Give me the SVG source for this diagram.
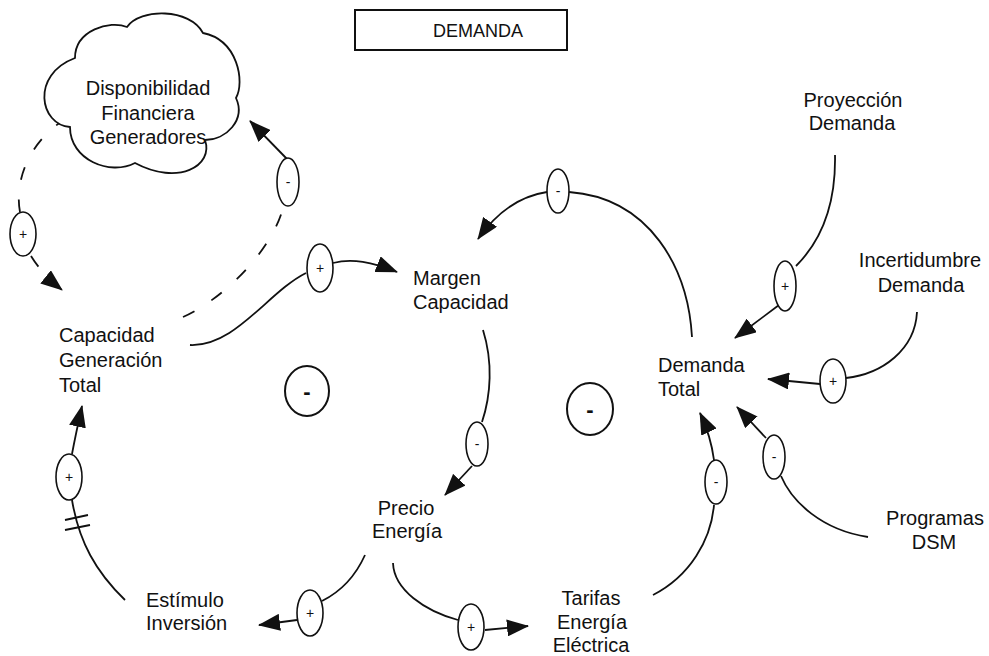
<svg xmlns="http://www.w3.org/2000/svg" width="989" height="656" viewBox="0 0 989 656">
  <style>
    .lbl { font-family: "Liberation Sans", Arial, sans-serif; font-size: 20px; fill: #111; }
    .mid { text-anchor: middle; }
    .sign { font-family: "Liberation Sans", Arial, sans-serif; font-size: 14px; fill: #111; text-anchor: middle; }
    .loop { font-family: "Liberation Sans", Arial, sans-serif; font-size: 22px; font-weight: bold; fill: #111; text-anchor: middle; }
    .link { fill: none; stroke: #111; stroke-width: 1.8; }
    .dash { stroke-dasharray: 13 20; }
    .arr { fill: none; stroke: #111; stroke-width: 1.8; marker-end: url(#ah); }
    .pol { fill: #fff; stroke: #111; stroke-width: 1.6; }
    .ring { fill: #fff; stroke: #111; stroke-width: 2; }
  </style>
  <defs>
    <marker id="ah" viewBox="0 0 22 17" refX="21" refY="8.5" markerWidth="22" markerHeight="17" orient="auto" markerUnits="userSpaceOnUse">
      <path d="M0,0 L22,8.5 L0,17 Z" fill="#111"/>
    </marker>
  </defs>
  <rect width="989" height="656" fill="#fff"/>

  <!-- title box -->
  <g id="title">
    <rect x="355" y="10" width="212" height="40" fill="#fff" stroke="#111" stroke-width="2"/>
    <text class="lbl mid" x="478" y="37" style="font-size:18px">DEMANDA</text>
  </g>

  <!-- connectors -->
  <g id="connectors">
    <!-- cloud -> capacidad (dashed) -->
    <path class="link dash" d="M67,118 C30,140 14,180 20,212"/>
    <path class="link dash" d="M31,256 Q42,274 62,290" marker-end="url(#ah)"/>
    <!-- capacidad -> cloud (dashed) -->
    <path class="link dash" d="M183,317 C225,298 272,250 283,208"/>
    <path class="arr" d="M287,159 L250,121"/>
    <!-- capacidad -> margen -->
    <path class="link" d="M190,345 C235,347 268,292 306,273"/>
    <path class="arr" d="M333,263 C352,258 372,262 397,272"/>
    <!-- margen -> precio -->
    <path class="link" d="M483,330 C493,362 491,395 482,422"/>
    <path class="arr" d="M472,466 L445,495"/>
    <!-- precio -> estimulo -->
    <path class="link" d="M365,555 C356,575 342,591 322,601"/>
    <path class="arr" d="M297,620 L259,625"/>
    <!-- precio -> tarifas -->
    <path class="link" d="M393,563 C394,590 425,611 458,620"/>
    <path class="arr" d="M485,630 L528,626"/>
    <!-- estimulo -> capacidad (with delay) -->
    <path class="link" d="M125,600 C96,572 79,542 72,500"/>
    <path class="link" d="M65,520 L88,515 M65,530 L90,525"/>
    <path class="arr" d="M72,454 C75,438 78,424 82,406"/>
    <!-- tarifas -> demanda total -->
    <path class="link" d="M653,595 C690,576 711,540 714,505"/>
    <path class="arr" d="M714,460 C712,445 708,430 700,413"/>
    <!-- DSM -> demanda total -->
    <path class="link" d="M868,537 C822,530 792,502 781,476"/>
    <path class="arr" d="M766,438 L737,407"/>
    <!-- incertidumbre -> demanda total -->
    <path class="link" d="M917,312 C915,350 882,374 846,378"/>
    <path class="arr" d="M820,384 L768,379"/>
    <!-- proyeccion -> demanda total -->
    <path class="link" d="M835,155 C836,205 822,240 796,266"/>
    <path class="arr" d="M779,305 L735,338"/>
    <!-- demanda total -> margen -->
    <path class="link" d="M692,337 C688,268 650,198 569,192"/>
    <path class="arr" d="M547,192 C520,196 497,212 478,239"/>
  </g>

  <!-- polarity marks -->
  <g id="polarities">
    <ellipse class="pol" cx="23" cy="234" rx="13" ry="22"/><text class="sign" x="23" y="239">+</text>
    <ellipse class="pol" cx="288" cy="182" rx="11" ry="24"/><text class="sign" x="288" y="187">-</text>
    <ellipse class="pol" cx="320" cy="268" rx="13" ry="24"/><text class="sign" x="320" y="273">+</text>
    <ellipse class="pol" cx="558" cy="191" rx="11" ry="22"/><text class="sign" x="558" y="196">-</text>
    <ellipse class="pol" cx="477" cy="444" rx="11" ry="22"/><text class="sign" x="477" y="449">-</text>
    <ellipse class="pol" cx="310" cy="613" rx="13" ry="23"/><text class="sign" x="310" y="618">+</text>
    <ellipse class="pol" cx="471" cy="627" rx="13" ry="23"/><text class="sign" x="471" y="632">+</text>
    <ellipse class="pol" cx="69" cy="477" rx="13" ry="23"/><text class="sign" x="69" y="482">+</text>
    <ellipse class="pol" cx="716" cy="482" rx="11" ry="22"/><text class="sign" x="716" y="487">-</text>
    <ellipse class="pol" cx="774" cy="457" rx="11" ry="22"/><text class="sign" x="774" y="462">-</text>
    <ellipse class="pol" cx="833" cy="381" rx="13" ry="22"/><text class="sign" x="833" y="386">+</text>
    <ellipse class="pol" cx="785" cy="286" rx="11" ry="25"/><text class="sign" x="785" y="291">+</text>
  </g>

  <!-- loop markers -->
  <g id="loop-left">
    <ellipse class="ring" cx="307" cy="391" rx="22" ry="25"/>
    <text class="loop" x="307" y="399">-</text>
  </g>
  <g id="loop-right">
    <ellipse class="ring" cx="590" cy="409" rx="23" ry="26"/>
    <text class="loop" x="590" y="417">-</text>
  </g>

  <!-- nodes -->
  <g id="disponibilidad">
    <path d="M70,127 C40,125 30,75 75,58 C75,30 110,20 127,27 C140,8 190,8 203,33 C238,40 245,82 236,98 C246,120 226,140 205,140 C214,166 178,186 135,163 C110,176 70,160 70,127 Z" fill="#fff" stroke="#111" stroke-width="1.8"/>
    <text class="lbl mid" x="148" y="95">Disponibilidad</text>
    <text class="lbl mid" x="148" y="120">Financiera</text>
    <text class="lbl mid" x="148" y="144">Generadores</text>
  </g>
  <g id="capacidad">
    <text class="lbl" x="59" y="342">Capacidad</text>
    <text class="lbl" x="59" y="367">Generación</text>
    <text class="lbl" x="59" y="392">Total</text>
  </g>
  <g id="margen">
    <text class="lbl" x="413" y="285">Margen</text>
    <text class="lbl" x="413" y="309">Capacidad</text>
  </g>
  <g id="precio">
    <text class="lbl mid" x="406" y="515">Precio</text>
    <text class="lbl mid" x="407" y="538">Energía</text>
  </g>
  <g id="estimulo">
    <text class="lbl" x="146" y="607">Estímulo</text>
    <text class="lbl" x="146" y="630">Inversión</text>
  </g>
  <g id="tarifas">
    <text class="lbl mid" x="591" y="605">Tarifas</text>
    <text class="lbl mid" x="592" y="629">Energía</text>
    <text class="lbl mid" x="591" y="652">Eléctrica</text>
  </g>
  <g id="demanda-total">
    <text class="lbl" x="658" y="372">Demanda</text>
    <text class="lbl" x="658" y="396">Total</text>
  </g>
  <g id="proyeccion">
    <text class="lbl mid" x="853" y="107">Proyección</text>
    <text class="lbl mid" x="852" y="130">Demanda</text>
  </g>
  <g id="incertidumbre">
    <text class="lbl mid" x="920" y="267">Incertidumbre</text>
    <text class="lbl mid" x="921" y="292">Demanda</text>
  </g>
  <g id="programas">
    <text class="lbl mid" x="935" y="525">Programas</text>
    <text class="lbl mid" x="934" y="549">DSM</text>
  </g>
</svg>
